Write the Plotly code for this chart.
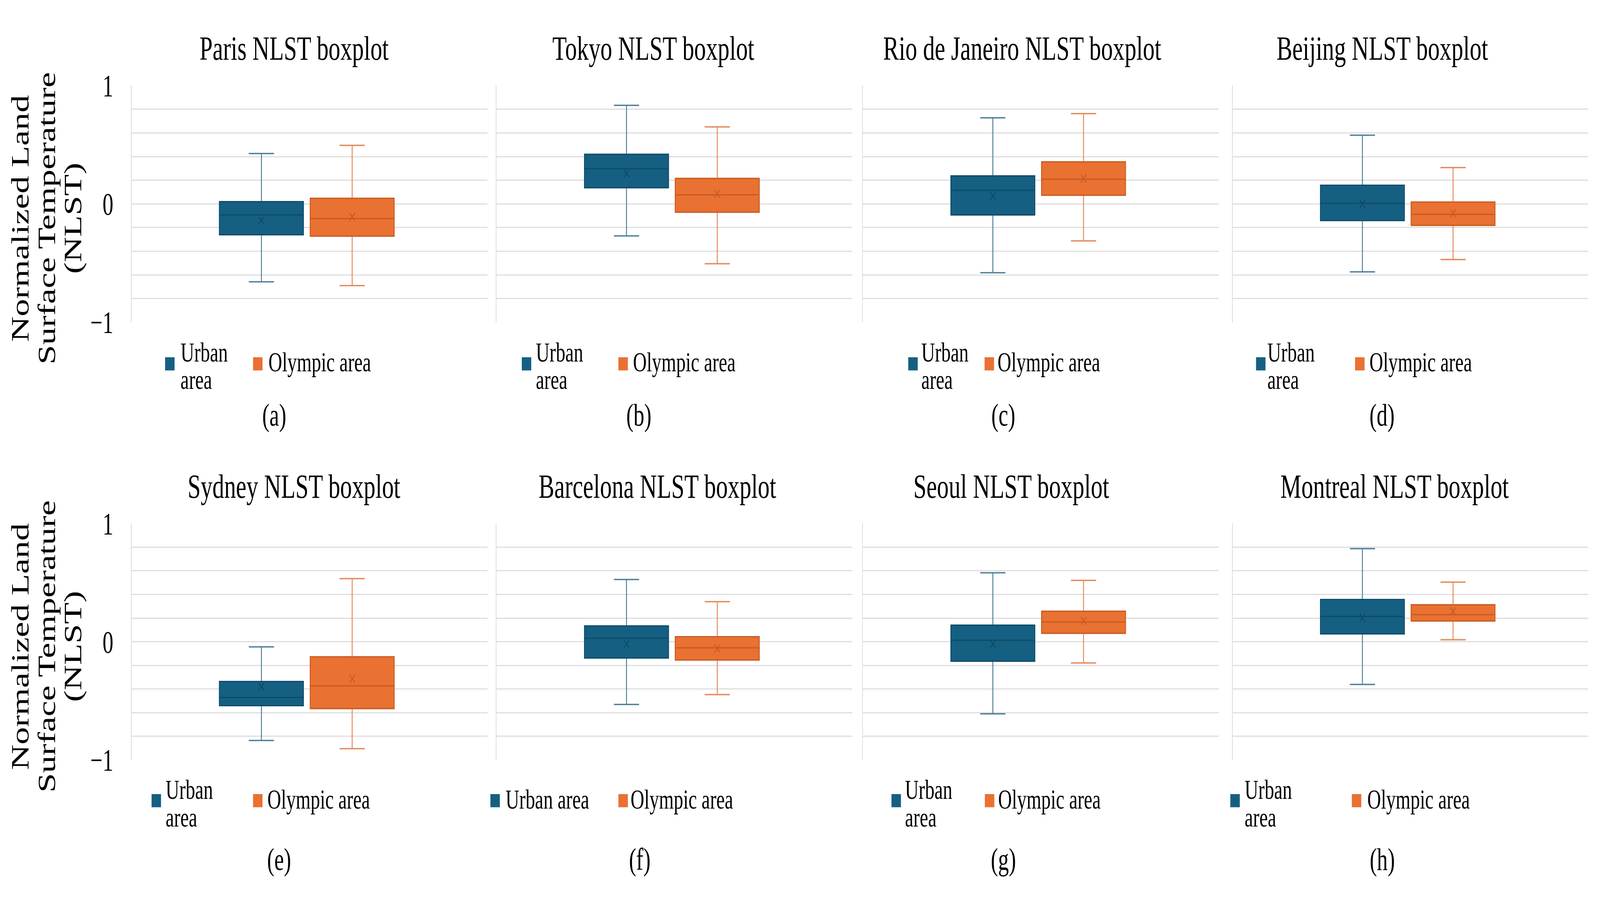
import plotly.graph_objects as go

# ---------------- data ----------------
CITIES = ["Paris", "Tokyo", "Rio de Janeiro", "Beijing",
          "Sydney", "Barcelona", "Seoul", "Montreal"]
PANEL_LABELS = ["(a)", "(b)", "(c)", "(d)", "(e)", "(f)", "(g)", "(h)"]
SERIES = ["Urban area", "Olympic area"]

URBAN_LOWER = [-0.658, -0.270, -0.581, -0.574, -0.836, -0.531, -0.610, -0.362]
URBAN_Q1 = [-0.260, 0.137, -0.093, -0.140, -0.541, -0.138, -0.165, 0.066]
URBAN_MEDIAN = [-0.093, 0.298, 0.116, 0.005, -0.472, 0.030, 0.012, 0.214]
URBAN_MEAN = [-0.140, 0.256, 0.065, 0.000, -0.381, -0.020, -0.020, 0.202]
URBAN_Q3 = [0.019, 0.419, 0.237, 0.158, -0.337, 0.133, 0.140, 0.357]
URBAN_UPPER = [0.426, 0.833, 0.728, 0.581, -0.044, 0.526, 0.583, 0.787]

OLYMPIC_LOWER = [-0.690, -0.505, -0.312, -0.470, -0.905, -0.448, -0.180, 0.017]
OLYMPIC_Q1 = [-0.272, -0.070, 0.074, -0.181, -0.566, -0.155, 0.071, 0.175]
OLYMPIC_MEDIAN = [-0.123, 0.077, 0.209, -0.088, -0.374, -0.052, 0.167, 0.229]
OLYMPIC_MEAN = [-0.109, 0.086, 0.214, -0.079, -0.312, -0.057, 0.177, 0.256]
OLYMPIC_Q3 = [0.047, 0.216, 0.356, 0.016, -0.128, 0.042, 0.258, 0.312]
OLYMPIC_UPPER = [0.495, 0.651, 0.763, 0.307, 0.534, 0.339, 0.519, 0.504]

Y_TICK_VALUES = [-1.0, -0.8, -0.6, -0.4, -0.2, 0.0, 0.2, 0.4, 0.6, 0.8, 1.0]
Y_TICK_TEXT = ["\u22121", "", "", "", "", "0", "", "", "", "", "1"]
Y_TITLE_LINES = ["Normalized Land", "Surface Temperature", "(NLST)"]
URBAN_LEGEND_LINES = [["Urban", "area"]] * 5 + [["Urban area"]] + [["Urban", "area"]] * 2

STATS = [
    (URBAN_LOWER, URBAN_Q1, URBAN_MEDIAN, URBAN_MEAN, URBAN_Q3, URBAN_UPPER),
    (OLYMPIC_LOWER, OLYMPIC_Q1, OLYMPIC_MEDIAN, OLYMPIC_MEAN, OLYMPIC_Q3, OLYMPIC_UPPER),
]

# ---------------- style / layout ----------------
W, H = 5912, 2364
FONT = "Palatino Linotype, Book Antiqua, Palatino, Liberation Serif, serif"
FILL = ["#156082", "#E97132"]
DARK = ["#0e4a66", "#c65a22"]
WHISK = ["#4f809c", "#e38a5c"]
GRID = "#dedede"

COL_X = [(486, 1801), (1835, 3150), (3189, 4503), (4555, 5868)]
ROW_Y = [(183, 814), (1347, 1977)]
X_RANGE = [-1.431, 2.490]
BOX_WIDTH = 0.925

TITLE_CX = [1086, 2414, 3777, 5107, 1086, 2429, 3736, 5153]
TITLE_CY = [85, 1249]
LABEL_CX = [1013, 2360, 3707, 5106, 1031, 2364, 3707, 5107]
LABEL_CY = [1060, 2241]
U_SWATCH_X = [610, 1928, 3356, 4641, 560, 1812, 3294, 4546]
U_TEXT_X = [665, 1978, 3402, 4681, 610, 1866, 3342, 4597]
O_SWATCH_X = [935, 2285, 3638, 5007, 935, 2285, 3639, 4995]
O_TEXT_X = [990, 2337, 3684, 5058, 986, 2328, 3686, 5050]
SWATCH_TOP = [906, 2067]
SWATCH_SIZE = 35
ONE_LINE_CY = [919, 2081]
TWO_LINE_CY = [(893, 966), (2055, 2129)]
YTITLE_CX = [75, 173, 271]
YTITLE_CY = [537, 1675]


def px(x):
    return x / W


def py(y):
    return 1 - y / H


fig = go.Figure()
layout = dict(
    width=W, height=H, autosize=False,
    margin=dict(l=0, r=0, t=0, b=0),
    paper_bgcolor="white", plot_bgcolor="white",
    showlegend=False, boxmode="overlay",
    font=dict(family=FONT, color="black"),
)
annotations = []
shapes = []

for i, city in enumerate(CITIES):
    r, c = divmod(i, 4)
    n = i + 1
    xs = "x" if n == 1 else f"x{n}"
    ys = "y" if n == 1 else f"y{n}"
    layout["xaxis" if n == 1 else f"xaxis{n}"] = dict(
        domain=[px(COL_X[c][0]), px(COL_X[c][1])],
        type="category", categoryorder="array", categoryarray=SERIES,
        range=X_RANGE, showgrid=False, zeroline=False, showline=False,
        showticklabels=False, ticks="", anchor=ys, fixedrange=True,
    )
    layout["yaxis" if n == 1 else f"yaxis{n}"] = dict(
        domain=[py(ROW_Y[r][1]), py(ROW_Y[r][0])],
        range=[-1.003, 1.003], tickvals=Y_TICK_VALUES, ticktext=Y_TICK_TEXT,
        showticklabels=(c == 0), ticks="", ticklabelstandoff=48,
        tickfont=dict(family=FONT, size=80, color="black"),
        showgrid=True, gridcolor=GRID, gridwidth=3, zeroline=False,
        showline=True, linecolor=GRID, linewidth=3, anchor=xs, fixedrange=True,
    )

    for s in range(2):
        lo, q1, med, mean, q3, up = STATS[s]
        # whiskers (lighter line)
        fig.add_trace(go.Box(
            x=[SERIES[s]], q1=[q1[i]], median=[med[i]], q3=[q3[i]],
            lowerfence=[lo[i]], upperfence=[up[i]],
            width=BOX_WIDTH, whiskerwidth=0.3, boxpoints=False,
            fillcolor=FILL[s], line=dict(color=WHISK[s], width=3.5),
            xaxis=xs, yaxis=ys, hoverinfo="skip", name=SERIES[s],
        ))
        # box body with darker median / outline
        fig.add_trace(go.Box(
            x=[SERIES[s]], q1=[q1[i]], median=[med[i]], q3=[q3[i]],
            lowerfence=[q1[i]], upperfence=[q3[i]],
            width=BOX_WIDTH, whiskerwidth=0.0, boxpoints=False,
            fillcolor=FILL[s], line=dict(color=DARK[s], width=3),
            xaxis=xs, yaxis=ys, hoverinfo="skip", name=SERIES[s],
        ))
        # mean marker
        fig.add_trace(go.Scatter(
            x=[SERIES[s]], y=[mean[i]], mode="markers",
            marker=dict(symbol="x-thin", size=20, color=DARK[s],
                        line=dict(width=3, color=DARK[s])),
            xaxis=xs, yaxis=ys, hoverinfo="skip", name=SERIES[s],
        ))

    annotations.append(dict(
        text=f"{city} NLST boxplot", x=px(TITLE_CX[i]), y=py(TITLE_CY[r]),
        xref="paper", yref="paper", xanchor="center", yanchor="middle",
        showarrow=False, font=dict(family=FONT, size=87, color="black"),
    ))
    annotations.append(dict(
        text=PANEL_LABELS[i], x=px(LABEL_CX[i]), y=py(LABEL_CY[r]),
        xref="paper", yref="paper", xanchor="center", yanchor="middle",
        showarrow=False, font=dict(family=FONT, size=80, color="black"),
    ))
    for sx, col in ((U_SWATCH_X[i], FILL[0]), (O_SWATCH_X[i], FILL[1])):
        shapes.append(dict(
            type="rect", xref="paper", yref="paper",
            x0=px(sx), x1=px(sx + SWATCH_SIZE),
            y0=py(SWATCH_TOP[r] + SWATCH_SIZE), y1=py(SWATCH_TOP[r]),
            fillcolor=col, line=dict(width=0), layer="above",
        ))
    lines = URBAN_LEGEND_LINES[i]
    cys = [ONE_LINE_CY[r]] if len(lines) == 1 else list(TWO_LINE_CY[r])
    for txt, cy in zip(lines, cys):
        annotations.append(dict(
            text=txt, x=px(U_TEXT_X[i]), y=py(cy), xref="paper", yref="paper",
            xanchor="left", yanchor="middle", showarrow=False,
            font=dict(family=FONT, size=70, color="black"),
        ))
    annotations.append(dict(
        text=SERIES[1], x=px(O_TEXT_X[i]), y=py(ONE_LINE_CY[r]),
        xref="paper", yref="paper", xanchor="left", yanchor="middle",
        showarrow=False, font=dict(family=FONT, size=70, color="black"),
    ))

for r in range(2):
    for line, cx in zip(Y_TITLE_LINES, YTITLE_CX):
        annotations.append(dict(
            text=line, x=px(cx), y=py(YTITLE_CY[r]), xref="paper", yref="paper",
            xanchor="center", yanchor="middle", textangle=-90, showarrow=False,
            font=dict(family=FONT, size=90, color="black"),
        ))

layout["annotations"] = annotations
layout["shapes"] = shapes
fig.update_layout(**layout)

# The figure is designed at 5912x2364; if the browser viewport is smaller
# in either direction, fit the whole figure into it (no effect otherwise).
FIT_JS = """
var gd = document.getElementById('{plot_id}');
document.documentElement.style.overflow = 'hidden';
document.body.style.margin = '0';
document.body.style.background = 'white';
var sx = Math.min(window.innerWidth / %d, 1);
var sy = Math.min(window.innerHeight / %d, 1);
gd.style.transformOrigin = '0 0';
gd.style.transform = 'scale(' + sx + ',' + sy + ')';
""" % (W, H)
fig.write_html("out.html", post_script=FIT_JS,
               config={"displayModeBar": False})
